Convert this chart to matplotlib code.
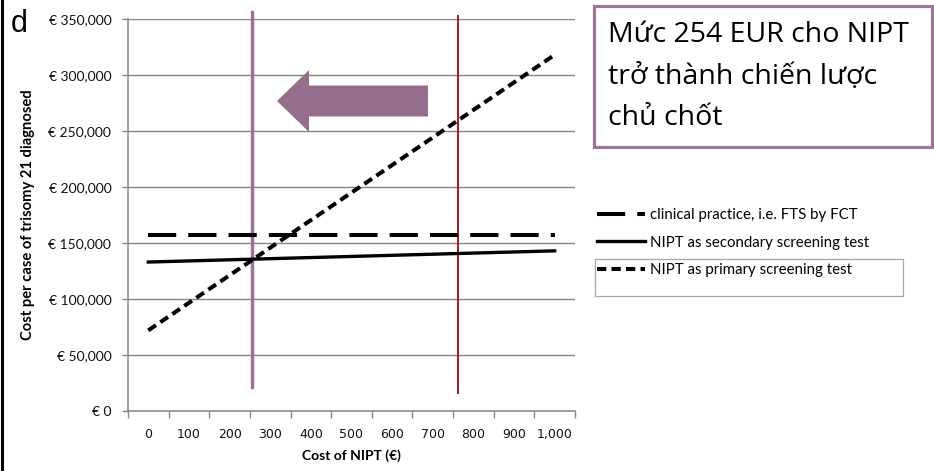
import matplotlib
matplotlib.use("Agg")
import matplotlib.pyplot as plt
from matplotlib.patches import Rectangle, Polygon
from matplotlib.lines import Line2D
from matplotlib.ticker import FuncFormatter, FixedLocator

# ---------------- data ----------------
nipt_cost = [0, 1000]                       # cost of NIPT (EUR)
clinical_practice = [157000, 157000]        # FTS by FCT
nipt_secondary = [133000, 143000]
nipt_primary = [72000, 318000]
x_tick_values = [0, 100, 200, 300, 400, 500, 600, 700, 800, 900, 1000]
x_tick_labels = ["0", "100", "200", "300", "400", "500", "600", "700", "800", "900", "1,000"]
y_tick_values = [0, 50000, 100000, 150000, 200000, 250000, 300000, 350000]
threshold_costs = [254, 763]                # marked NIPT costs
series_labels = ["clinical practice, i.e. FTS by FCT",
                 "NIPT as secondary screening test",
                 "NIPT as primary screening test"]
note_lines = ["Mức 254 EUR cho NIPT", "trở thành chiến lược", "chủ chốt"]

W, H = 934, 471
fig = plt.figure(figsize=(W / 100, H / 100), dpi=100)
fig.patch.set_facecolor("white")

def fx(px):
    return px / W

def fy(py):
    return 1 - py / H

ax = fig.add_axes([fx(128), fy(411), fx(575) - fx(128), fy(19) - fy(411)])
ax.set_xlim(-50, 1050)
ax.set_ylim(0, 350000)

grid_c = "#858585"
ax.set_yticks(y_tick_values)
ax.yaxis.grid(True, color=grid_c, linewidth=1.0)
ax.set_axisbelow(True)
for s in ["top", "right"]:
    ax.spines[s].set_visible(False)
for s in ["left", "bottom"]:
    ax.spines[s].set_color(grid_c)
    ax.spines[s].set_linewidth(1.1)

ax.yaxis.set_major_formatter(FuncFormatter(lambda v, p: "€ {:,.0f}".format(v)))
ax.tick_params(axis="y", direction="out", length=4, width=1, color=grid_c, pad=8,
               labelsize=10, labelcolor="#111111")
for lab in ax.get_yticklabels():
    lab.set_family("Lato")

ax.set_xticks(x_tick_values)
ax.set_xticklabels(x_tick_labels, family="DejaVu Sans", fontsize=9, color="#111111")
ax.xaxis.set_minor_locator(FixedLocator([v - 50 for v in x_tick_values] + [x_tick_values[-1] + 50]))
ax.tick_params(axis="x", which="major", length=0, pad=12)
ax.tick_params(axis="x", which="minor", direction="out", length=5, width=1, color=grid_c)

ax.set_xlabel("Cost of NIPT (€)", family="Lato", fontweight="bold", fontsize=10, labelpad=6)
ax.set_ylabel("Cost per case of trisomy 21 diagnosed", family="Lato", fontweight="bold",
              fontsize=10.6, labelpad=10)

# series
l1, = ax.plot(nipt_cost, clinical_practice, color="black", linewidth=2.9,
              dashes=(7, 3), label=series_labels[0], solid_capstyle="butt")
l2, = ax.plot(nipt_cost, nipt_secondary, color="black", linewidth=2.4,
              label=series_labels[1])
l3, = ax.plot(nipt_cost, nipt_primary, color="black", linewidth=2.9,
              dashes=(2.3, 1.3), label=series_labels[2])

# threshold lines
purple = "#9a7395"
ax.axvline(threshold_costs[0], ymin=0.061, ymax=1.018, color=purple, linewidth=2.5,
           clip_on=False, zorder=1.5)
ax.axvline(threshold_costs[1], ymin=0.046, ymax=1.008, color="#a8171f", linewidth=1.4,
           clip_on=False, zorder=1.5)

# legend
leg = ax.legend(handles=[l1, l2, l3], loc="upper left",
                bbox_to_anchor=(fx(597), fy(208)), bbox_transform=fig.transFigure,
                frameon=False, borderpad=0, borderaxespad=0,
                handlelength=3.2, handletextpad=0.33, labelspacing=0.9,
                prop={"family": "Lato", "size": 10.8})
fig.add_artist(Rectangle((fx(595), fy(296)), fx(903) - fx(595), fy(259) - fy(296),
                         transform=fig.transFigure, fill=False,
                         edgecolor="#b79db3", linewidth=0.9))

# arrow
arrow_pts = [(277, 101), (309, 70), (309, 85.5), (428, 85.5), (428, 116.5),
             (309, 116.5), (309, 132)]
fig.add_artist(Polygon([(fx(a), fy(b)) for a, b in arrow_pts], closed=True,
                       transform=fig.transFigure, facecolor="#946e8a",
                       edgecolor="none", zorder=5))

# annotation box
fig.add_artist(Rectangle((fx(594), fy(147)), fx(932) - fx(594), fy(6) - fy(147),
                         transform=fig.transFigure, fill=False,
                         edgecolor="#9c7896", linewidth=2.3))
for i, txt in enumerate(note_lines):
    fig.text(fx(608), fy(42 + 41.5 * i), txt, family=["Open Sans", "Noto Sans", "DejaVu Sans"],
             fontsize=20.5, va="baseline", ha="left", color="black")

# panel letter and left border
fig.text(fx(11), fy(32), "d", family="Liberation Sans", fontsize=22, va="baseline", ha="left")
fig.add_artist(Line2D([fx(1.5), fx(1.5)], [0, 1], transform=fig.transFigure,
                      color="black", linewidth=2.2))

fig.savefig("out.png", dpi=100, facecolor="white")
